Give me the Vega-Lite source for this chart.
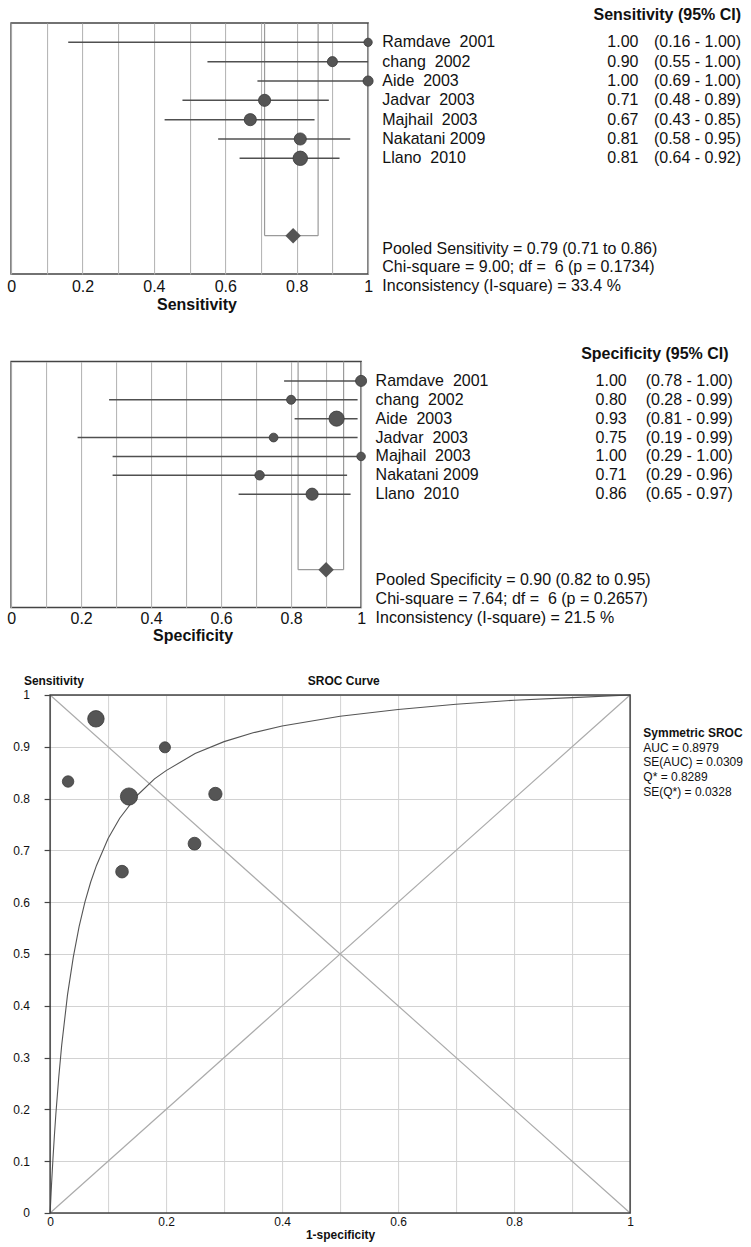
{
  "$schema": "https://vega.github.io/schema/vega-lite/v6.json",
  "padding": {"left": 5.1, "top": 6, "right": 0, "bottom": 4},
  "background": "white",
  "config": {"font": "Liberation Sans", "text": {"color": "#111"}},
  "datasets": {
    "sens": [
      {"study": "Ramdave \u00a02001", "k": 1, "est": 1.00, "lo": 0.16, "hi": 1.00, "ci": "(0.16 - 1.00)", "n": 2},
      {"study": "chang \u00a02002", "k": 2, "est": 0.90, "lo": 0.55, "hi": 1.00, "ci": "(0.55 - 1.00)", "n": 10},
      {"study": "Aide \u00a02003", "k": 3, "est": 1.00, "lo": 0.69, "hi": 1.00, "ci": "(0.69 - 1.00)", "n": 10},
      {"study": "Jadvar \u00a02003", "k": 4, "est": 0.71, "lo": 0.48, "hi": 0.89, "ci": "(0.48 - 0.89)", "n": 21},
      {"study": "Majhail \u00a02003", "k": 5, "est": 0.67, "lo": 0.43, "hi": 0.85, "ci": "(0.43 - 0.85)", "n": 21},
      {"study": "Nakatani 2009", "k": 6, "est": 0.81, "lo": 0.58, "hi": 0.95, "ci": "(0.58 - 0.95)", "n": 21},
      {"study": "Llano \u00a02010", "k": 7, "est": 0.81, "lo": 0.64, "hi": 0.92, "ci": "(0.64 - 0.92)", "n": 36}
    ],
    "spec": [
      {"study": "Ramdave \u00a02001", "k": 1, "est": 1.00, "lo": 0.78, "hi": 1.00, "ci": "(0.78 - 1.00)", "n": 15},
      {"study": "chang \u00a02002", "k": 2, "est": 0.80, "lo": 0.28, "hi": 0.99, "ci": "(0.28 - 0.99)", "n": 5},
      {"study": "Aide \u00a02003", "k": 3, "est": 0.93, "lo": 0.81, "hi": 0.99, "ci": "(0.81 - 0.99)", "n": 41},
      {"study": "Jadvar \u00a02003", "k": 4, "est": 0.75, "lo": 0.19, "hi": 0.99, "ci": "(0.19 - 0.99)", "n": 4},
      {"study": "Majhail \u00a02003", "k": 5, "est": 1.00, "lo": 0.29, "hi": 1.00, "ci": "(0.29 - 1.00)", "n": 3},
      {"study": "Nakatani 2009", "k": 6, "est": 0.71, "lo": 0.29, "hi": 0.96, "ci": "(0.29 - 0.96)", "n": 7},
      {"study": "Llano \u00a02010", "k": 7, "est": 0.86, "lo": 0.65, "hi": 0.97, "ci": "(0.65 - 0.97)", "n": 21}
    ],
    "sensPooled": [{"est": 0.79, "lo": 0.71, "hi": 0.86}],
    "specPooled": [{"est": 0.90, "lo": 0.82, "hi": 0.95}],
    "sroc": [
      {"study": "Ramdave 2001", "fpr": 0.031, "tpr": 0.833, "n": 17},
      {"study": "chang 2002", "fpr": 0.198, "tpr": 0.899, "n": 15},
      {"study": "Aide 2003", "fpr": 0.079, "tpr": 0.954, "n": 51},
      {"study": "Jadvar 2003", "fpr": 0.249, "tpr": 0.713, "n": 25},
      {"study": "Majhail 2003", "fpr": 0.124, "tpr": 0.659, "n": 24},
      {"study": "Nakatani 2009", "fpr": 0.285, "tpr": 0.809, "n": 28},
      {"study": "Llano 2010", "fpr": 0.136, "tpr": 0.804, "n": 57}
    ],
    "curve": [
      {"fpr": 0, "tpr": 0}, {"fpr": 0.0025, "tpr": 0.056}, {"fpr": 0.005, "tpr": 0.106},
      {"fpr": 0.0075, "tpr": 0.151}, {"fpr": 0.01, "tpr": 0.192}, {"fpr": 0.015, "tpr": 0.263},
      {"fpr": 0.02, "tpr": 0.324}, {"fpr": 0.03, "tpr": 0.421}, {"fpr": 0.04, "tpr": 0.494},
      {"fpr": 0.05, "tpr": 0.553}, {"fpr": 0.06, "tpr": 0.600}, {"fpr": 0.07, "tpr": 0.639},
      {"fpr": 0.08, "tpr": 0.671}, {"fpr": 0.1, "tpr": 0.723}, {"fpr": 0.12, "tpr": 0.762},
      {"fpr": 0.15, "tpr": 0.806}, {"fpr": 0.18, "tpr": 0.838}, {"fpr": 0.2, "tpr": 0.854},
      {"fpr": 0.25, "tpr": 0.887}, {"fpr": 0.3, "tpr": 0.910}, {"fpr": 0.35, "tpr": 0.927},
      {"fpr": 0.4, "tpr": 0.940}, {"fpr": 0.5, "tpr": 0.959}, {"fpr": 0.6, "tpr": 0.972},
      {"fpr": 0.7, "tpr": 0.982}, {"fpr": 0.8, "tpr": 0.990}, {"fpr": 0.9, "tpr": 0.995},
      {"fpr": 1, "tpr": 1}
    ],
    "diag": [
      {"x": 0, "y": 0, "x2": 1, "y2": 1},
      {"x": 0, "y": 1, "x2": 1, "y2": 0}
    ]
  },
  "bounds": "flush",
  "spacing": 87.5,
  "vconcat": [
    {
      "width": 357,
      "height": 251,
      "view": {"stroke": "#444", "strokeWidth": 1.5},
      "layer": [
        {
          "data": {"name": "sensPooled"},
          "mark": {"type": "rule", "color": "#9a9a9a", "strokeWidth": 1.2},
          "encoding": {
            "x": {"field": "lo", "type": "quantitative",
              "scale": {"domain": [0, 1], "nice": false, "zero": false},
              "axis": {"tickCount": 10, "format": "~g",
                "labelExpr": "round(datum.value*10) % 2 === 0 ? datum.label : ''",
                "grid": true, "gridColor": "#b0b0b0", "gridWidth": 1, "ticks": false, "domain": false,
                "labelFontSize": 16, "labelPadding": 4, "labelFlush": false, "labelOverlap": false, "labelColor": "#111",
                "title": "Sensitivity", "titleFontSize": 16, "titleFontWeight": "bold", "titlePadding": 2, "titleX": 185.4, "titleColor": "#111"}},
            "y": {"datum": 0, "type": "quantitative", "scale": {"domain": [0, 12.985], "reverse": true, "nice": false, "zero": false}, "axis": null},
            "y2": {"datum": 11}
          }
        },
        {
          "data": {"name": "sensPooled"},
          "mark": {"type": "rule", "color": "#9a9a9a", "strokeWidth": 1.2},
          "encoding": {
            "x": {"field": "hi", "type": "quantitative"},
            "y": {"datum": 0, "type": "quantitative"},
            "y2": {"datum": 11}
          }
        },
        {
          "data": {"name": "sensPooled"},
          "mark": {"type": "rule", "color": "#9a9a9a", "strokeWidth": 1.2},
          "encoding": {
            "x": {"field": "lo", "type": "quantitative"},
            "x2": {"field": "hi"},
            "y": {"datum": 11, "type": "quantitative"}
          }
        },
        {
          "data": {"name": "sens"},
          "mark": {"type": "rule", "color": "#505050", "strokeWidth": 1.5},
          "encoding": {
            "x": {"field": "lo", "type": "quantitative"},
            "x2": {"field": "hi"},
            "y": {"field": "k", "type": "quantitative"}
          }
        },
        {
          "data": {"name": "sens"},
          "mark": {"type": "circle", "fill": "#555", "stroke": "#3a3a3a", "strokeWidth": 0.8, "opacity": 1, "fillOpacity": 1},
          "encoding": {
            "x": {"field": "est", "type": "quantitative"},
            "y": {"field": "k", "type": "quantitative"},
            "size": {"field": "n", "type": "quantitative", "scale": {"domain": [2, 36], "range": [69, 296]}, "legend": null}
          }
        },
        {
          "data": {"name": "sensPooled"},
          "mark": {"type": "point", "shape": "diamond", "filled": true, "color": "#555", "opacity": 1, "size": 240},
          "encoding": {
            "x": {"field": "est", "type": "quantitative"},
            "y": {"datum": 11, "type": "quantitative"}
          }
        },
        {
          "data": {"name": "sens"},
          "mark": {"type": "text", "align": "left", "baseline": "middle", "fontSize": 16},
          "encoding": {
            "x": {"datum": 1.0398, "type": "quantitative"},
            "y": {"field": "k", "type": "quantitative"},
            "text": {"field": "study"}
          }
        },
        {
          "data": {"name": "sens"},
          "mark": {"type": "text", "align": "right", "baseline": "middle", "fontSize": 16},
          "encoding": {
            "x": {"datum": 1.7574, "type": "quantitative"},
            "y": {"field": "k", "type": "quantitative"},
            "text": {"field": "est", "type": "quantitative", "format": ".2f"}
          }
        },
        {
          "data": {"name": "sens"},
          "mark": {"type": "text", "align": "right", "baseline": "middle", "fontSize": 16},
          "encoding": {
            "x": {"datum": 2.0446, "type": "quantitative"},
            "y": {"field": "k", "type": "quantitative"},
            "text": {"field": "ci"}
          }
        },
        {
          "data": {"name": "sensPooled"},
          "mark": {"type": "text", "align": "right", "baseline": "middle", "fontSize": 16, "fontWeight": "bold", "text": "Sensitivity (95% CI)"},
          "encoding": {
            "x": {"datum": 2.0446, "type": "quantitative"},
            "y": {"datum": -0.402, "type": "quantitative"}
          }
        },
        {
          "data": {"name": "sensPooled"},
          "mark": {"type": "text", "align": "left", "baseline": "top", "fontSize": 16, "lineHeight": 18.5,
            "text": ["Pooled Sensitivity = 0.79 (0.71 to 0.86)", "Chi-square = 9.00; df = \u00a06 (p = 0.1734)", "Inconsistency (I-square) = 33.4 %"]},
          "encoding": {
            "x": {"datum": 1.0398, "type": "quantitative"},
            "y": {"datum": 11.26, "type": "quantitative"}
          }
        }
      ]
    },
    {
      "width": 350,
      "height": 246,
      "view": {"stroke": "#444", "strokeWidth": 1.5},
      "layer": [
        {
          "data": {"name": "specPooled"},
          "mark": {"type": "rule", "color": "#9a9a9a", "strokeWidth": 1.2},
          "encoding": {
            "x": {"field": "lo", "type": "quantitative",
              "scale": {"domain": [0, 1], "nice": false, "zero": false},
              "axis": {"tickCount": 10, "format": "~g",
                "labelExpr": "round(datum.value*10) % 2 === 0 ? datum.label : ''",
                "grid": true, "gridColor": "#b0b0b0", "gridWidth": 1, "ticks": false, "domain": false,
                "labelFontSize": 16, "labelPadding": 2.5, "labelFlush": false, "labelOverlap": false, "labelColor": "#111",
                "title": "Specificity", "titleFontSize": 16, "titleFontWeight": "bold", "titlePadding": 2, "titleX": 181.5, "titleColor": "#111"}},
            "y": {"datum": -0.0275, "type": "quantitative", "scale": {"domain": [-0.0275, 13.0022], "reverse": true, "nice": false, "zero": false}, "axis": null},
            "y2": {"datum": 11}
          }
        },
        {
          "data": {"name": "specPooled"},
          "mark": {"type": "rule", "color": "#9a9a9a", "strokeWidth": 1.2},
          "encoding": {
            "x": {"field": "hi", "type": "quantitative"},
            "y": {"datum": -0.0275, "type": "quantitative"},
            "y2": {"datum": 11}
          }
        },
        {
          "data": {"name": "specPooled"},
          "mark": {"type": "rule", "color": "#9a9a9a", "strokeWidth": 1.2},
          "encoding": {
            "x": {"field": "lo", "type": "quantitative"},
            "x2": {"field": "hi"},
            "y": {"datum": 11, "type": "quantitative"}
          }
        },
        {
          "data": {"name": "spec"},
          "mark": {"type": "rule", "color": "#505050", "strokeWidth": 1.5},
          "encoding": {
            "x": {"field": "lo", "type": "quantitative"},
            "x2": {"field": "hi"},
            "y": {"field": "k", "type": "quantitative"}
          }
        },
        {
          "data": {"name": "spec"},
          "mark": {"type": "circle", "fill": "#555", "stroke": "#3a3a3a", "strokeWidth": 0.8, "opacity": 1, "fillOpacity": 1},
          "encoding": {
            "x": {"field": "est", "type": "quantitative"},
            "y": {"field": "k", "type": "quantitative"},
            "size": {"field": "n", "type": "quantitative", "scale": {"domain": [3, 41], "range": [80, 360]}, "legend": null}
          }
        },
        {
          "data": {"name": "specPooled"},
          "mark": {"type": "point", "shape": "diamond", "filled": true, "color": "#555", "opacity": 1, "size": 240},
          "encoding": {
            "x": {"field": "est", "type": "quantitative"},
            "y": {"datum": 11, "type": "quantitative"}
          }
        },
        {
          "data": {"name": "spec"},
          "mark": {"type": "text", "align": "left", "baseline": "middle", "fontSize": 16},
          "encoding": {
            "x": {"datum": 1.0414, "type": "quantitative"},
            "y": {"field": "k", "type": "quantitative"},
            "text": {"field": "study"}
          }
        },
        {
          "data": {"name": "spec"},
          "mark": {"type": "text", "align": "right", "baseline": "middle", "fontSize": 16},
          "encoding": {
            "x": {"datum": 1.759, "type": "quantitative"},
            "y": {"field": "k", "type": "quantitative"},
            "text": {"field": "est", "type": "quantitative", "format": ".2f"}
          }
        },
        {
          "data": {"name": "spec"},
          "mark": {"type": "text", "align": "right", "baseline": "middle", "fontSize": 16},
          "encoding": {
            "x": {"datum": 2.062, "type": "quantitative"},
            "y": {"field": "k", "type": "quantitative"},
            "text": {"field": "ci"}
          }
        },
        {
          "data": {"name": "specPooled"},
          "mark": {"type": "text", "align": "right", "baseline": "middle", "fontSize": 16, "fontWeight": "bold", "text": "Specificity (95% CI)"},
          "encoding": {
            "x": {"datum": 2.05, "type": "quantitative"},
            "y": {"datum": -0.444, "type": "quantitative"}
          }
        },
        {
          "data": {"name": "specPooled"},
          "mark": {"type": "text", "align": "left", "baseline": "top", "fontSize": 16, "lineHeight": 19.1,
            "text": ["Pooled Specificity = 0.90 (0.82 to 0.95)", "Chi-square = 7.64; df = \u00a06 (p = 0.2657)", "Inconsistency (I-square) = 21.5 %"]},
          "encoding": {
            "x": {"datum": 1.0414, "type": "quantitative"},
            "y": {"datum": 11.10, "type": "quantitative"}
          }
        }
      ]
    },
    {
      "width": 619,
      "height": 518,
      "view": {"stroke": null},
      "layer": [
        {
          "data": {"name": "diag"},
          "mark": {"type": "rule", "color": "#ababab", "strokeWidth": 1.2},
          "encoding": {
            "x": {"field": "x", "type": "quantitative",
              "scale": {"domain": [0, 1], "range": [39, 619], "nice": false, "zero": false},
              "axis": {"tickCount": 10, "format": "~g",
                "labelExpr": "round(datum.value*10) % 2 === 0 ? datum.label : ''",
                "grid": true, "gridColor": "#d2d2d2", "gridWidth": 1, "ticks": false, "domain": false,
                "labelFontSize": 12, "labelPadding": 3.3, "labelFlush": false, "labelOverlap": false, "labelColor": "#111",
                "title": "1-specificity", "titleFontSize": 12, "titleFontWeight": "bold", "titlePadding": 2.3, "titleColor": "#111"}},
            "x2": {"field": "x2"},
            "y": {"field": "y", "type": "quantitative",
              "scale": {"domain": [0, 1], "nice": false, "zero": false},
              "axis": {"tickCount": 10, "format": "~g",
                "grid": true, "gridColor": "#d2d2d2", "gridWidth": 1, "domain": false,
                "ticks": true, "tickSize": 6, "tickColor": "#444", "tickWidth": 1.2, "offset": -39,
                "labelFontSize": 12, "labelPadding": 14.6, "labelOverlap": false, "labelColor": "#111", "title": null}},
            "y2": {"field": "y2"}
          }
        },
        {
          "data": {"name": "curve"},
          "mark": {"type": "line", "color": "#555", "strokeWidth": 1.1},
          "encoding": {
            "x": {"field": "fpr", "type": "quantitative"},
            "y": {"field": "tpr", "type": "quantitative"}
          }
        },
        {
          "data": {"name": "sroc"},
          "mark": {"type": "circle", "fill": "#555", "stroke": "#3a3a3a", "strokeWidth": 0.8, "opacity": 1, "fillOpacity": 1},
          "encoding": {
            "x": {"field": "fpr", "type": "quantitative"},
            "y": {"field": "tpr", "type": "quantitative"},
            "size": {"field": "n", "type": "quantitative", "scale": {"domain": [15, 57], "range": [60, 154]}, "legend": null}
          }
        },
        {
          "data": {"values": [{"frame": 1}]},
          "mark": {"type": "rect", "filled": false, "color": "#444", "strokeWidth": 1.5},
          "encoding": {
            "x": {"datum": 0, "type": "quantitative"},
            "x2": {"datum": 1},
            "y": {"datum": 0, "type": "quantitative"},
            "y2": {"datum": 1}
          }
        },
        {
          "data": {"values": [{"frame": 1}]},
          "mark": {"type": "text", "align": "left", "baseline": "middle", "fontSize": 12, "fontWeight": "bold", "text": "Sensitivity"},
          "encoding": {
            "x": {"datum": -0.0452, "type": "quantitative"},
            "y": {"datum": 1.027, "type": "quantitative"}
          }
        },
        {
          "data": {"values": [{"frame": 1}]},
          "mark": {"type": "text", "align": "center", "baseline": "middle", "fontSize": 12, "fontWeight": "bold", "text": "SROC Curve"},
          "encoding": {
            "x": {"datum": 0.5064, "type": "quantitative"},
            "y": {"datum": 1.027, "type": "quantitative"}
          }
        },
        {
          "data": {"values": [{"frame": 1}]},
          "mark": {"type": "text", "align": "left", "baseline": "middle", "fontSize": 12, "fontWeight": "bold", "text": "Symmetric SROC"},
          "encoding": {
            "x": {"datum": 1.0228, "type": "quantitative"},
            "y": {"datum": 0.9266, "type": "quantitative"}
          }
        },
        {
          "data": {"values": [{"frame": 1}]},
          "mark": {"type": "text", "align": "left", "baseline": "top", "fontSize": 12, "lineHeight": 14.75,
            "text": ["AUC = 0.8979", "SE(AUC) = 0.0309", "Q* = 0.8289", "SE(Q*) = 0.0328"]},
          "encoding": {
            "x": {"datum": 1.0228, "type": "quantitative"},
            "y": {"datum": 0.9079, "type": "quantitative"}
          }
        }
      ]
    }
  ]
}
